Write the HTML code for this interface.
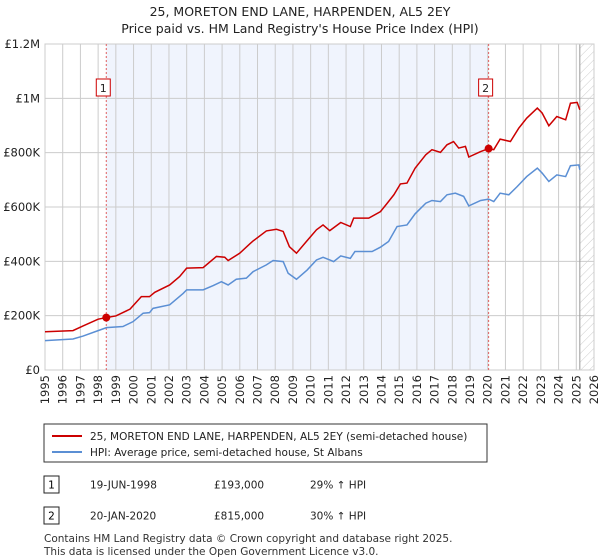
<!DOCTYPE html>
<html><head><meta charset="utf-8"><style>
body{margin:0;background:#fff;font-family:"Liberation Sans","DejaVu Sans",sans-serif;}
#wrap{position:relative;width:600px;height:560px;overflow:hidden}
svg text{font-family:"DejaVu Sans","Liberation Sans",sans-serif}
</style></head><body><div id="wrap">
<svg id="c" width="600" height="560">
<defs><pattern id="hatch" width="6" height="6" patternUnits="userSpaceOnUse" patternTransform="rotate(45)"><line x1="0" y1="0" x2="0" y2="6" stroke="#ccc" stroke-width="1"/></pattern></defs>
<text x="300" y="16" text-anchor="middle" font-size="12.5" fill="#222">25, MORETON END LANE, HARPENDEN, AL5 2EY</text>
<text x="300" y="33" text-anchor="middle" font-size="12.5" fill="#222">Price paid vs. HM Land Registry's House Price Index (HPI)</text>
<g id="plot"></g>
<rect x="44" y="424" width="443" height="38" fill="#fff" stroke="#333"/>
<line x1="52" y1="436" x2="82" y2="436" stroke="#cc0000" stroke-width="2"/>
<text x="90" y="440" font-size="10.5" fill="#222">25, MORETON END LANE, HARPENDEN, AL5 2EY (semi-detached house)</text>
<line x1="52" y1="452" x2="82" y2="452" stroke="#5b8fd4" stroke-width="2"/>
<text x="90" y="456" font-size="10.5" fill="#222">HPI: Average price, semi-detached house, St Albans</text>
<g>
<rect x="44" y="476" width="15" height="17" fill="#fff" stroke="#222"/><text x="51.5" y="488.5" text-anchor="middle" font-size="10.5">1</text>
<text x="90" y="488.5" font-size="10.5" fill="#222">19-JUN-1998</text><text x="214" y="488.5" font-size="10.5" fill="#222">£193,000</text><text x="310" y="488.5" font-size="10.5" fill="#222">29% ↑ HPI</text></g>
<g>
<rect x="44" y="507" width="15" height="17" fill="#fff" stroke="#222"/><text x="51.5" y="519.5" text-anchor="middle" font-size="10.5">2</text>
<text x="90" y="519.5" font-size="10.5" fill="#222">20-JAN-2020</text><text x="214" y="519.5" font-size="10.5" fill="#222">£815,000</text><text x="310" y="519.5" font-size="10.5" fill="#222">30% ↑ HPI</text></g>
<text x="44" y="542" font-size="10.5" fill="#333">Contains HM Land Registry data © Crown copyright and database right 2025.</text>
<text x="44" y="555" font-size="10.5" fill="#333">This data is licensed under the Open Government Licence v3.0.</text>
</svg></div>
<script>
const yTicks=[0,200000,400000,600000,800000,1000000,1200000];
const yTickLabels=["£0","£200K","£400K","£600K","£800K","£1M","£1.2M"];
const xYears=[1995,1996,1997,1998,1999,2000,2001,2002,2003,2004,2005,2006,2007,2008,2009,2010,2011,2012,2013,2014,2015,2016,2017,2018,2019,2020,2021,2022,2023,2024,2025,2026];
const hpiYears=[1995.0,1996.58,1997.15,1998.0,1998.47,1999.4,1999.97,2000.54,2000.9,2001.1,2002.04,2002.8,2003.0,2003.93,2004.5,2004.96,2005.34,2005.8,2006.37,2006.75,2007.5,2007.88,2008.45,2008.73,2009.2,2009.8,2010.33,2010.7,2011.08,2011.3,2011.7,2012.24,2012.5,2013.47,2013.94,2014.4,2014.88,2015.44,2015.9,2016.5,2016.85,2017.33,2017.7,2018.17,2018.64,2018.93,2019.6,2020.05,2020.34,2020.7,2021.19,2021.66,2022.2,2022.8,2023.07,2023.45,2023.9,2024.4,2024.67,2025.14,2025.2];
const hpiValues=[108000,114000,125000,145000,156000,160000,178000,209000,211000,227000,240000,282000,295000,295000,311000,325000,313000,334000,338000,362000,387000,403000,399000,356000,334000,368000,405000,415000,405000,399000,420000,411000,436000,436000,452000,473000,528000,534000,575000,614000,624000,620000,645000,651000,639000,604000,624000,629000,620000,651000,645000,675000,712000,743000,725000,694000,718000,712000,752000,755000,737000];
const priceYears=[1995.0,1996.58,1997.15,1998.0,1998.46,1999.0,1999.8,2000.44,2000.9,2001.2,2002.04,2002.6,2003.0,2003.93,2004.68,2005.15,2005.34,2006.0,2006.56,2006.75,2007.5,2008.07,2008.45,2008.8,2009.2,2009.76,2010.33,2010.7,2011.08,2011.7,2012.24,2012.43,2013.28,2013.94,2014.3,2014.7,2015.07,2015.44,2015.9,2016.5,2016.85,2017.33,2017.7,2018.07,2018.36,2018.74,2018.93,2019.6,2020.05,2020.34,2020.7,2021.28,2021.75,2022.2,2022.8,2023.07,2023.45,2023.9,2024.4,2024.67,2025.05,2025.2];
const priceValues=[141000,145000,162000,187000,193000,199000,224000,270000,270000,286000,313000,344000,375000,377000,418000,415000,403000,430000,464000,475000,512000,518000,510000,454000,430000,473000,516000,534000,513000,543000,528000,559000,559000,583000,612000,645000,685000,688000,743000,792000,811000,801000,829000,841000,817000,823000,784000,804000,815000,811000,850000,841000,890000,927000,964000,946000,899000,933000,921000,982000,985000,958000];
const saleYears=[1998.46,2020.05];
const saleValues=[193000,815000];
const saleLabels=["1","2"];
const dataEnd=2025.2;
const X0=45,X1=594,Y0=370,Y1=44;
const sx=y=>X0+(y-1995)/(2026-1995)*(X1-X0);
const sy=v=>Y0-v/1200000*(Y0-Y1);
const NS="http://www.w3.org/2000/svg";
const g=document.getElementById('plot');
function mk(t,a){const e=document.createElementNS(NS,t);for(const k in a)e.setAttribute(k,a[k]);g.appendChild(e);return e;}
let e;
e=mk('rect',{x:sx(saleYears[0]),y:Y1,width:sx(saleYears[1])-sx(saleYears[0]),height:Y0-Y1,fill:'#f0f4fd'});


e=mk('rect',{x:sx(dataEnd),y:Y1,width:X1-sx(dataEnd),height:Y0-Y1,fill:'url(#hatch)'});


xYears.forEach(yr=>{
 e=mk('line',{x1:sx(yr),x2:sx(yr),y1:Y1,y2:Y0,stroke:'#cccccc','stroke-width':1});
 
 
 const tx=sx(yr)+4,ty=Y0+5;
 e=mk('text',{x:tx,y:ty,'text-anchor':'end','font-size':11.5,fill:'#222',transform:'rotate(-90 '+tx+' '+ty+')'});e.textContent=yr;
 
 
});
yTicks.forEach((v,i)=>{
 e=mk('line',{x1:X0,x2:X1,y1:sy(v),y2:sy(v),stroke:'#cccccc','stroke-width':1});
 
 
 e=mk('text',{x:X0-5,y:sy(v)+4,'text-anchor':'end','font-size':11.5,fill:'#222'});e.textContent=yTickLabels[i];
 
 
});
e=mk('line',{x1:sx(dataEnd),x2:sx(dataEnd),y1:Y1,y2:Y0,stroke:'#999','stroke-width':1});


e=mk('rect',{x:X0,y:Y1,width:X1-X0,height:Y0-Y1,fill:'none',stroke:'#cccccc'});


saleYears.forEach((yr,i)=>{
 e=mk('line',{x1:sx(yr),x2:sx(yr),y1:Y1,y2:Y0,stroke:'#e06060','stroke-width':1,'stroke-dasharray':'2,2'});
 
 
});
e=mk('polyline',{points:hpiYears.map((y,i)=>sx(y)+','+sy(hpiValues[i])).join(' '),fill:'none',stroke:'#5b8fd4','stroke-width':1.5});


e=mk('polyline',{points:priceYears.map((y,i)=>sx(y)+','+sy(priceValues[i])).join(' '),fill:'none',stroke:'#cc0000','stroke-width':1.5});


saleYears.forEach((yr,i)=>{
 e=mk('circle',{cx:sx(yr),cy:sy(saleValues[i]),r:4,fill:'#cc0000'});
 
 
 e=mk('rect',{x:sx(yr)-7-3,y:79,width:14,height:17,fill:'#fff',stroke:'#cc0000'});
 
 
 e=mk('text',{x:sx(yr)-3,y:92,'text-anchor':'middle','font-size':11,fill:'#222'});e.textContent=saleLabels[i];
 
 
});
</script></body></html>
